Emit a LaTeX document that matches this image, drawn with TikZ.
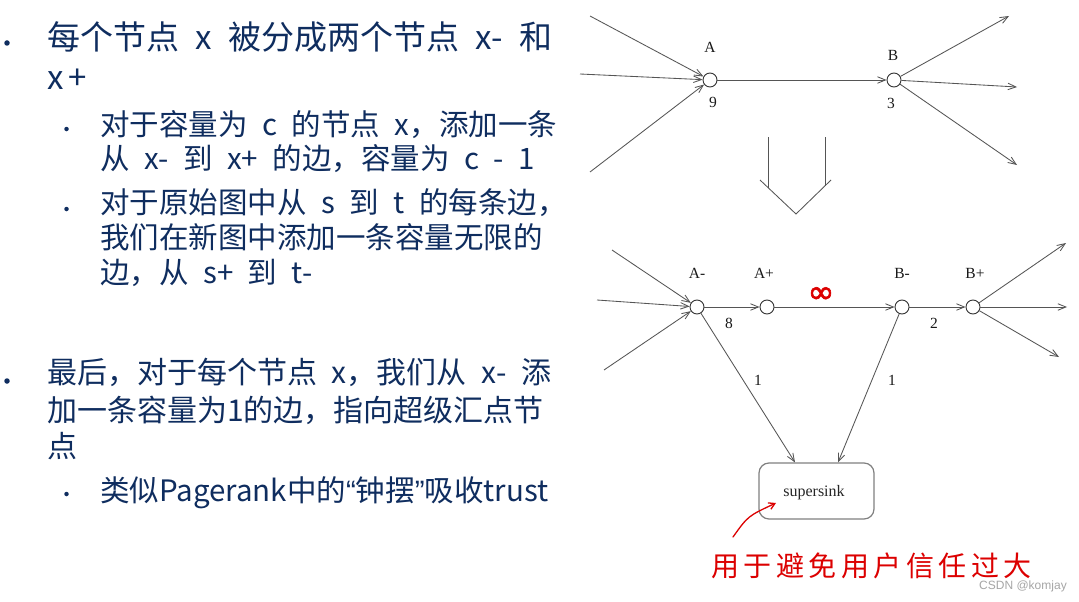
\documentclass[tikz,border=0pt]{standalone}
\usepackage{fontspec}
\setmainfont{Noto Sans CJK SC}[WordSpace=2.2]
\newfontfamily\serif{Liberation Serif}
\newfontfamily\wm{Liberation Sans}
\newfontfamily\sym{DejaVu Sans}[FakeBold=2]
\usetikzlibrary{arrows.meta}
\definecolor{navy}{RGB}{15,45,95}
\definecolor{edgegray}{RGB}{85,85,85}
\definecolor{hand}{RGB}{220,0,0}
\newcommand{\hsp}{\hspace{4.5pt}}
\begin{document}
\begin{tikzpicture}[x=1pt,y=-1pt,
  mainA/.style={anchor=base west, inner sep=0, text=navy, font=\fontsize{33}{40}\selectfont},
  mainB/.style={anchor=base west, inner sep=0, text=navy, font=\fontsize{30}{37}\selectfont},
  subA/.style={anchor=base west, inner sep=0, text=navy, font=\fontsize{29.5}{35}\selectfont},
  bul/.style={circle, fill=navy, inner sep=0, minimum size=5.5pt},
  sbul/.style={circle, fill=navy, inner sep=0, minimum size=4.5pt},
  vtx/.style={circle, draw=black!80, fill=white, line width=0.9pt, minimum size=14pt, inner sep=0},
  lab/.style={font=\serif\fontsize{15.5}{15.5}\selectfont, inner sep=0, text=black!90},
  edge/.style={draw=edgegray, line width=0.85pt, -{Straight Barb[length=8pt,width=6.5pt]}},
  plain/.style={draw=edgegray, line width=0.85pt},
  sinkbox/.style={draw=black!50, line width=1.2pt, rounded corners=10pt, fill=white, minimum width=115pt, minimum height=56pt, inner sep=0},
  handtext/.style={text=hand, inner sep=0, font=\fontsize{28}{28}\selectfont},
]
\useasboundingbox[fill=white] (0,0) rectangle (1079,602);

% ---- left text ----
\node[bul] (b1) at (7,43) {};
\node[mainA] (t1) at (47,49) {每个节点 x 被分成两个节点 x- 和};
\node[mainA] (t2) at (47,89) {x\hspace{5pt}+};
\node[sbul] (b2) at (66.5,129) {};
\node[subA] (t3) at (100,135) {对于容量为 c 的节点 x，添加一条};
\node[subA] (t4) at (100,169) {从 x- 到 x+ 的边，容量为 c - 1};
\node[sbul] (b3) at (66.5,209) {};
\node[subA] (t5) at (100,213) {对于原始图中从 s 到 t 的每条边，};
\node[subA] (t6) at (100,248) {我们在新图中添加一条容量无限的};
\node[subA] (t7) at (100,283) {边，从 s+ 到 t-};
\node[bul] (b4) at (7,381) {};
\node[mainB] (t8) at (47,383) {最后，对于每个节点 x，我们从 x- 添};
\node[mainB] (t9) at (47,421) {加一条容量为1的边，指向超级汇点节};
\node[mainB] (t10) at (47,457) {点};
\node[sbul] (b5) at (66.5,494) {};
\node[subA] (t11) at (100,501) {类似Pagerank中的{\wm “}钟摆{\wm ”}吸收trust};

% ---- top graph ----
\node[vtx] (A) at (710,80) {};
\node[vtx] (B) at (894,80) {};
\node[lab] (lA) at (710,47) {A};
\node[lab] (lB) at (893,55) {B};
\node[lab] (l9) at (713,102) {9};
\node[lab] (l3) at (891,103) {3};
\coordinate (ai1) at (590,16);
\coordinate (ai2) at (580,74);
\coordinate (ai3) at (590,172);
\coordinate (bo1) at (1009,16);
\coordinate (bo2) at (1017,87);
\coordinate (bo3) at (1017,165);
\draw[edge] (ai1) -- (A);
\draw[edge] (ai2) -- (A);
\draw[edge] (ai3) -- (A);
\draw[edge] (A) -- (B);
\draw[edge] (B) -- (bo1);
\draw[edge] (B) -- (bo2);
\draw[edge] (B) -- (bo3);

% ---- big down arrow ----
\coordinate (d1) at (768,137);
\coordinate (d2) at (768,188);
\coordinate (d3) at (825,137);
\coordinate (d4) at (825,186);
\coordinate (v1) at (760,180);
\coordinate (v2) at (796,214);
\coordinate (v3) at (831,180);
\draw[plain] (d1) -- (d2);
\draw[plain] (d3) -- (d4);
\draw[plain] (v1) -- (v2) -- (v3);

% ---- bottom graph ----
\node[vtx] (Am) at (697,307) {};
\node[vtx] (Ap) at (767,307) {};
\node[vtx] (Bm) at (902,307) {};
\node[vtx] (Bp) at (973,307) {};
\node[lab] (lAm) at (697,273) {A-};
\node[lab] (lAp) at (764,273) {A+};
\node[lab] (lBm) at (902,273) {B-};
\node[lab] (lBp) at (975,273) {B+};
\node[lab] (l8) at (729,323) {8};
\node[lab] (l2) at (934,323) {2};
\node[lab] (l1a) at (758,380) {1};
\node[lab] (l1b) at (892,380) {1};
\node[text=hand, inner sep=0, font=\sym\fontsize{32}{32}\selectfont] (inf) at (821,295) {∞};
\node[sinkbox] (ss) at (816.5,491) {};
\node[font=\serif\fontsize{16}{16}\selectfont, inner sep=0, text=black!85] (sst) at (814,493) {supersink};
\coordinate (ci1) at (612,250);
\coordinate (ci2) at (597,300);
\coordinate (ci3) at (604,370);
\coordinate (co1) at (1066,243);
\coordinate (co2) at (1067,307);
\coordinate (co3) at (1059,357);
\draw[edge] (ci1) -- (Am);
\draw[edge] (ci2) -- (Am);
\draw[edge] (ci3) -- (Am);
\draw[edge] (Am) -- (Ap);
\draw[edge] (Ap) -- (Bm);
\draw[edge] (Bm) -- (Bp);
\draw[edge] (Bp) -- (co1);
\draw[edge] (Bp) -- (co2);
\draw[edge] (Bp) -- (co3);
\draw[edge] (Am) -- ([xshift=-21.5pt]ss.north);
\draw[edge] (Bm) -- ([xshift=21.5pt]ss.north);

% ---- handwriting ----
\coordinate (ra) at (733,537);
\coordinate (rb) at (776,503);
\draw[draw=hand, line width=1.3pt, line cap=round, -{Straight Barb[length=6pt,width=7pt]}] (ra) .. controls (748,516) .. (rb);
\node[handtext, anchor=west] (hw) at (711,566) {用\hsp 于\hsp 避\hsp 免\hsp 用\hsp 户\hsp 信\hsp 任\hsp 过\hsp 大};
\node[text=black!35, inner sep=0, font=\wm\fontsize{12}{12}\selectfont] (csdn) at (1023,586) {CSDN @komjay};
\end{tikzpicture}
\end{document}
